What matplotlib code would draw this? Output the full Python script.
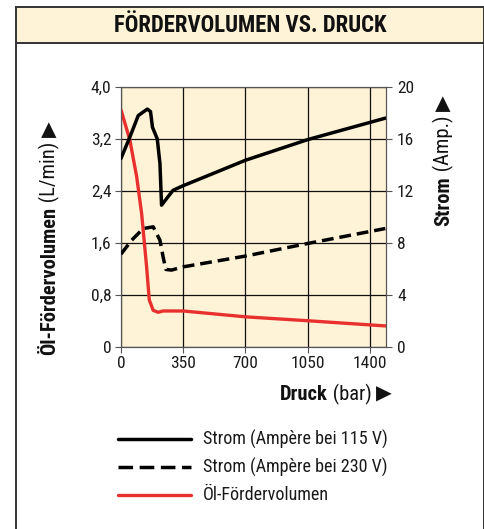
import matplotlib
matplotlib.use("Agg")
import matplotlib.pyplot as plt
from matplotlib import font_manager
from matplotlib.lines import Line2D
from matplotlib.patches import Rectangle

# ---- data -------------------------------------------------------------
druck_115 = [0, 50, 97, 148, 166, 177, 204, 219, 228, 256, 293, 350, 700, 1050, 1486]
strom_115 = [14.5, 16.15, 17.8, 18.3, 18.1, 16.9, 16.0, 14.1, 10.9, 11.4, 12.05, 12.4, 14.36, 15.95, 17.6]

druck_230 = [0, 60, 125, 181, 219, 237, 252, 284, 350, 700, 1050, 1486]
strom_230 = [7.13, 8.2, 9.1, 9.23, 8.2, 6.9, 5.95, 5.9, 6.15, 6.98, 7.95, 9.1]

druck_oel = [0, 50, 88, 116, 144, 159, 181, 209, 236, 350, 700, 1050, 1486]
oel_volumen = [3.65, 3.18, 2.62, 2.05, 1.23, 0.72, 0.56, 0.53, 0.55, 0.55, 0.46, 0.40, 0.32]

x_ticks = [0, 350, 700, 1050, 1400]
y_left_ticks = [0, 0.8, 1.6, 2.4, 3.2, 4.0]
y_left_labels = ["0", "0,8", "1,6", "2,4", "3,2", "4,0"]
y_right_ticks = [0, 4, 8, 12, 16, 20]

legend_labels = ["Strom (Ampère bei 115 V)", "Strom (Ampère bei 230 V)", "Öl-Fördervolumen"]

# ---- fonts ------------------------------------------------------------
weights = {}
for f in font_manager.fontManager.ttflist:
    w = f.weight if isinstance(f.weight, int) else 400
    weights.setdefault(f.name, set()).add(w)

preferred = ["Roboto Condensed", "Liberation Sans Narrow", "PT Sans Narrow",
             "Fira Sans Condensed", "IBM Plex Sans Condensed", "Barlow Semi Condensed",
             "Encode Sans Condensed", "Asap Condensed", "Archivo Narrow", "Liberation Sans"]
base = "Liberation Sans"
for name in preferred:
    ws = weights.get(name, set())
    if ws and any(w >= 600 for w in ws) and any(w <= 500 for w in ws):
        base = name
        break
FAM = [base, "DejaVu Sans"]
plt.rcParams["font.family"] = FAM

BEIGE = "#fef3d6"
RED = "#e8312f"
DARK = "#1a1a1a"

W, H = 485, 529
fig = plt.figure(figsize=(W / 100, H / 100), dpi=100)
renderer = fig.canvas.get_renderer()


def fx(px):
    return px / W


def fy(py):
    return 1 - py / H


def fitted_size(txt, target_px, weight="normal", ref=12.0):
    """Font size at which txt spans target_px pixels."""
    t = fig.text(0, 0, txt, fontsize=ref, fontweight=weight)
    w = t.get_window_extent(renderer).width
    t.remove()
    return ref * target_px / w


# outer frame and title band
fig.add_artist(Rectangle((fx(16), fy(43)), fx(484) - fx(16), fy(7) - fy(43),
                         transform=fig.transFigure, facecolor=BEIGE,
                         edgecolor="none", zorder=0))
for xs, ys in [((16, 484), (7, 7)), ((16, 484), (43, 43)),
               ((16, 16), (7, 540)), ((484, 484), (7, 540))]:
    fig.add_artist(Line2D([fx(xs[0]), fx(xs[1])], [fy(ys[0]), fy(ys[1])],
                          transform=fig.transFigure, color="#333333", lw=1.4))

title = "FÖRDERVOLUMEN VS. DRUCK"
fig.text(fx(250), fy(26), title, ha="center", va="center",
         fontsize=fitted_size(title, 274, "bold"), fontweight="bold", color="#111111")

tick_size = fitted_size("1400", 34)

# main axes
ax = fig.add_axes([fx(121), fy(346.7), fx(386) - fx(121), fy(87) - fy(346.7)])
ax.set_facecolor(BEIGE)
ax.set_xlim(0, 1490)
ax.set_ylim(0, 4.0)
ax.set_xticks(x_ticks)
ax.set_yticks(y_left_ticks)
ax.set_yticklabels(y_left_labels)
ax.grid(True, color="#111111", lw=0.9)
ax.set_axisbelow(True)
for s in ax.spines.values():
    s.set_color("#555555")
    s.set_linewidth(0.8)
ax.tick_params(direction="out", length=4, width=0.8, color="#555555",
               labelsize=tick_size, pad=3, labelcolor=DARK)

ax2 = ax.twinx()
ax2.set_ylim(0, 20)
ax2.set_yticks(y_right_ticks)
ax2.tick_params(direction="out", length=4, width=0.8, color="#555555",
                labelsize=tick_size, pad=4, labelcolor=DARK)
for s in ax2.spines.values():
    s.set_color("#555555")
    s.set_linewidth(0.8)

DASH = (0, (3.4, 1.7))
l_oel, = ax.plot(druck_oel, oel_volumen, color=RED, lw=2.4,
                 solid_joinstyle="round", solid_capstyle="round", zorder=3)
l115, = ax2.plot(druck_115, strom_115, color="black", lw=2.5,
                 solid_joinstyle="round", solid_capstyle="round", zorder=3)
l230, = ax2.plot(druck_230, strom_230, color="black", lw=2.5, ls=DASH, zorder=3)

# legend rows: sample line + label
leg_size = fitted_size(legend_labels[0], 185)
for line, label, yrow in zip([l115, l230, l_oel], legend_labels, [439, 467, 495]):
    fig.add_artist(Line2D([fx(118), fx(191)], [fy(yrow), fy(yrow)],
                          transform=fig.transFigure, color=line.get_color(),
                          lw=line.get_linewidth(), ls=line.get_linestyle(),
                          dashes=(4.2, 1.9) if line is l230 else (None, None),
                          solid_capstyle="round"))
    fig.text(fx(203), fy(yrow), label, fontsize=leg_size, va="center", ha="left",
             color=DARK)


# axis titles built from bold / regular runs
def runs(x0, y0, parts, size, rotation=0, align="end"):
    """Lay out text runs one after another, in pixels of the figure."""
    items = []
    for txt, weight in parts:
        t = fig.text(0, 0, txt, fontsize=size, fontweight=weight, color="#111111",
                     rotation=rotation, va="baseline", ha="left",
                     rotation_mode="anchor")
        bb = t.get_window_extent(renderer)
        items.append((t, bb.width if rotation == 0 else bb.height))
    total = sum(s for _, s in items)
    pos = -total if align == "end" else 0.0
    for t, s in items:
        if rotation == 0:
            t.set_position((fx(x0 + pos), fy(y0)))
        else:
            t.set_position((fx(x0), fy(y0 - pos)))
        pos += s


def runs_size(parts, target):
    ref = 12.0
    total = 0.0
    for txt, weight in parts:
        t = fig.text(0, 0, txt, fontsize=ref, fontweight=weight)
        total += t.get_window_extent(renderer).width
        t.remove()
    return ref * target / total


xl = [("Druck", "bold"), (" (bar) ", "normal"), ("▶", "normal")]
yl = [("Öl-Fördervolumen", "bold"), (" (L/min) ", "normal"), ("▶", "normal")]
yr = [("Strom", "bold"), (" (Amp.) ", "normal"), ("▶", "normal")]
lab_size = runs_size(xl, 112)
runs(392, 400, xl, lab_size)
runs(55, 355, yl, lab_size, rotation=90, align="start")
runs(449, 226, yr, lab_size, rotation=90, align="start")

fig.savefig("out.png", dpi=100, facecolor="white")
